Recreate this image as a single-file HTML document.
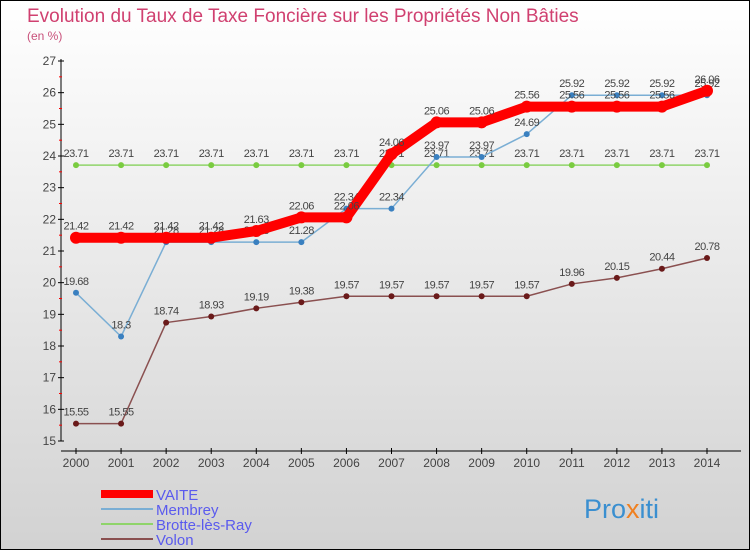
<!DOCTYPE html>
<html><head><meta charset="utf-8"><style>
body{margin:0}
#c{width:750px;height:550px;position:relative;box-sizing:border-box;border:1px solid #000;background:linear-gradient(#fff,#d2d2d2);font-family:"Liberation Sans",sans-serif;overflow:hidden}
svg text{font-family:"Liberation Sans",sans-serif}
</style></head><body>
<div id="c">
<svg id="s" width="750" height="550">
<text x="26" y="21" font-size="19" fill="#d04070">Evolution du Taux de Taxe Foncière sur les Propriétés Non Bâties</text>
<text x="26" y="39" font-size="12" fill="#c8507a">(en %)</text>
<text x="583" y="517" font-size="27" fill="#3a8fd0">Pro<tspan fill="#f08020">x</tspan>iti</text>
</svg>
</div>
<script>
const years=[2000,2001,2002,2003,2004,2005,2006,2007,2008,2009,2010,2011,2012,2013,2014];
const yTicks=[15,16,17,18,19,20,21,22,23,24,25,26,27];
const seriesNames=["VAITE","Membrey","Brotte-lès-Ray","Volon"];
const vaite=[21.42,21.42,21.42,21.42,21.63,22.06,22.06,24.06,25.06,25.06,25.56,25.56,25.56,25.56,26.06];
const membrey=[19.68,18.3,21.28,21.28,21.28,21.28,22.34,22.34,23.97,23.97,24.69,25.92,25.92,25.92,25.92];
const brotte=[23.71,23.71,23.71,23.71,23.71,23.71,23.71,23.71,23.71,23.71,23.71,23.71,23.71,23.71,23.71];
const volon=[15.55,15.55,18.74,18.93,19.19,19.38,19.57,19.57,19.57,19.57,19.57,19.96,20.15,20.44,20.78];
const NS="http://www.w3.org/2000/svg",svg=document.getElementById('s');
const x=i=>75+i*(706-75)/(years.length-1);
const y=v=>440-(v-15)*(380/12);
function mk(t,a){const e=document.createElementNS(NS,t);for(const k in a)e.setAttribute(k,a[k]);svg.appendChild(e);return e;}
let e=mk('line',{x1:60,y1:58,x2:60,y2:440,stroke:'#000'});


e=mk('line',{x1:60,y1:450,x2:740,y2:450,stroke:'#000'});


yTicks.forEach((t,i)=>{
 mk('line',{x1:57,y1:y(t),x2:63,y2:y(t),stroke:'#000'});
 if(i<yTicks.length-1)mk('line',{x1:58,y1:y(t+0.5),x2:61,y2:y(t+0.5),stroke:'#f00'});
 const tx=mk('text',{x:55,y:y(t)+4,'font-size':12,'text-anchor':'end',fill:'#444'});
 tx.textContent=t;
 
 
});
years.forEach((yr,i)=>{
 mk('line',{x1:x(i),y1:447,x2:x(i),y2:453,stroke:'#000'});
 const tx=mk('text',{x:x(i),y:466,'font-size':12,'text-anchor':'middle',fill:'#444'});
 tx.textContent=yr;
 
 
});
function series(d,col,w,r,dot,name){
 const p=mk('polyline',{points:d.map((v,i)=>x(i)+','+y(v)).join(' '),fill:'none',stroke:col,'stroke-width':w,'stroke-linejoin':'round'});
 
 
 d.forEach((v,i)=>{
  const c=mk('circle',{cx:x(i),cy:y(v),r:r,fill:dot});
  
  
  const t=mk('text',{x:x(i),y:y(v)-8,'font-size':11,'text-anchor':'middle',fill:'#444','letter-spacing':'-0.5'});
  t.textContent=v.toFixed(2).replace(/0$/,'').replace(/\.$/,'');
  
  
 });
}
series(brotte,'#8fd46a',1.5,3,'#7acc40','brotte');
series(volon,'#8a5050',1.5,3,'#6a1a1a','volon');
series(membrey,'#7aaed4',1.5,3,'#3a80c0','membrey');
series(vaite,'#f00',10,6,'#f00','vaite');
const cols=['#f00','#7aaed4','#8fd46a','#8a5050'],ws=[8,2,2,2];
seriesNames.forEach((n,i)=>{
 const yy=493+i*15;
 const l=mk('line',{x1:100,y1:yy,x2:152,y2:yy,stroke:cols[i],'stroke-width':ws[i]});
 
 
 const t=mk('text',{x:155,y:yy+6,'font-size':15,fill:'#5a5aee'});
 t.textContent=n;
 
 
});
</script>
</body></html>
